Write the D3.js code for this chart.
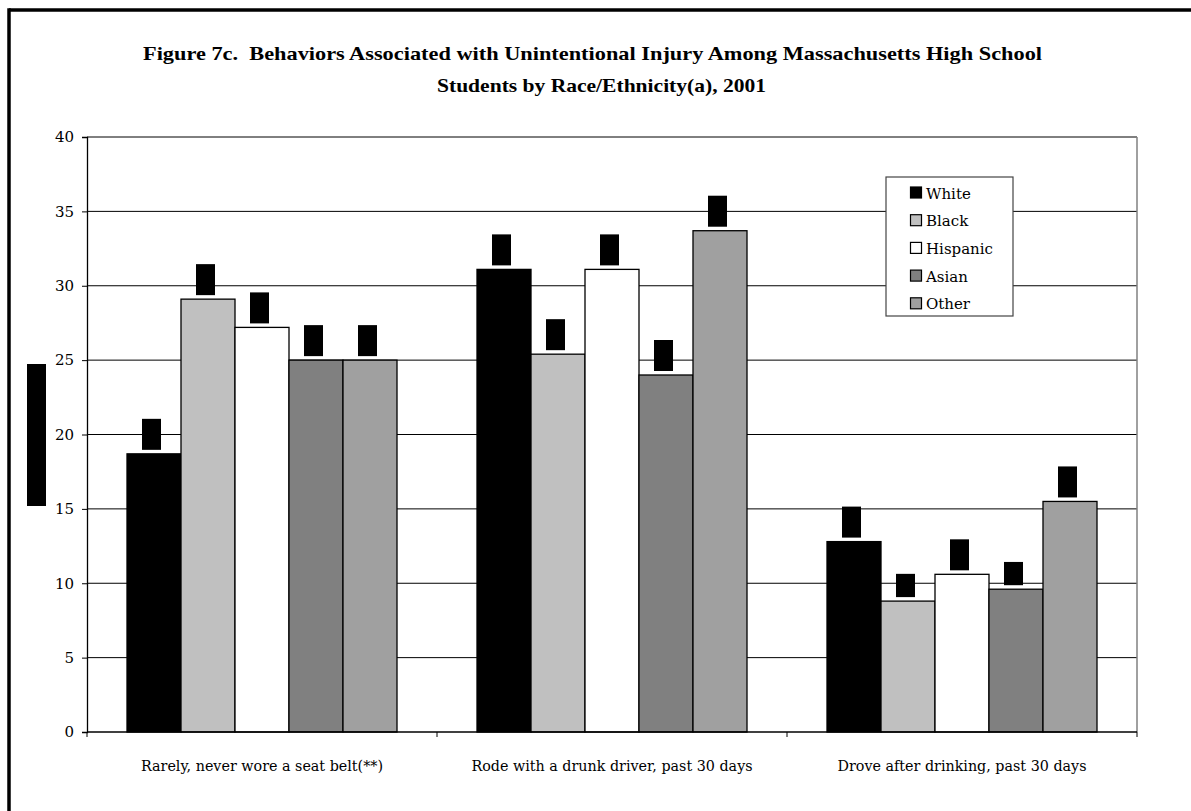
<!DOCTYPE html>
<html>
<head>
<meta charset="utf-8">
<script src="https://cdn.jsdelivr.net/npm/d3@7"></script>
<style>
  html, body { margin: 0; padding: 0; background: #fff; }
  svg { display: block; }
</style>
</head>
<body>
<svg id="chart" width="1191" height="811"></svg>
<script>
// ---- data ----
const categories = [
  "Rarely, never wore a seat belt(**)",
  "Rode with a drunk driver, past 30 days",
  "Drove after drinking, past 30 days"
];
const groups = ["White", "Black", "Hispanic", "Asian", "Other"];
const white    = [18.7, 31.1, 12.8];
const black    = [29.1, 25.4, 8.8];
const hispanic = [27.2, 31.1, 10.6];
const asian    = [25.0, 24.0, 9.6];
const other    = [25.0, 33.7, 15.5];
const yTicks = [0, 5, 10, 15, 20, 25, 30, 35, 40];
const titleLines = [
  "Figure 7c.  Behaviors Associated with Unintentional Injury Among Massachusetts High School",
  "Students by Race/Ethnicity(a), 2001"
];
const yTitle = "Percent of Students";

const seriesValues = [white, black, hispanic, asian, other];
const colors = ["#000000", "#C0C0C0", "#FFFFFF", "#808080", "#A0A0A0"];

const svg = d3.select("#chart");
const L = 87, R = 1137, T = 137, B = 732;
const serif = "'DejaVu Serif', serif";

// outer frame (left and top heavy lines)
svg.append("line").attr("x1", 9).attr("x2", 1191).attr("y1", 10).attr("y2", 10)
  .attr("stroke", "#000").attr("stroke-width", 3.5);
svg.append("line").attr("x1", 9).attr("x2", 9).attr("y1", 8.25).attr("y2", 811)
  .attr("stroke", "#000").attr("stroke-width", 3.5);

// title
const titleLayout = [ { x: 143, y: 60, w: 899 }, { x: 437, y: 92, w: 329 } ];
svg.append("g").selectAll("text").data(titleLines).join("text")
  .attr("x", (d, i) => titleLayout[i].x).attr("y", (d, i) => titleLayout[i].y)
  .attr("textLength", (d, i) => titleLayout[i].w)
  .attr("lengthAdjust", "spacingAndGlyphs")
  .attr("font-family", "'Liberation Serif', 'Times New Roman', serif")
  .attr("font-weight", "bold").attr("font-size", 19)
  .attr("fill", "#000")
  .style("white-space", "pre")
  .text(d => d);

// scales
const x0 = d3.scaleBand().domain(categories).range([L, R]).paddingInner(0).paddingOuter(0);
const x1 = d3.scaleBand().domain(groups).range([40, 310]).padding(0);
const y = d3.scaleLinear().domain([0, 40]).range([B, T]);

// gridlines
svg.append("g").selectAll("line").data(yTicks.filter(v => v > 0)).join("line")
  .attr("x1", L).attr("x2", R)
  .attr("y1", d => y(d)).attr("y2", d => y(d))
  .attr("stroke", "#000").attr("stroke-width", 1);

// right plot border
svg.append("line").attr("x1", R).attr("x2", R).attr("y1", T).attr("y2", B)
  .attr("stroke", "#808080").attr("stroke-width", 1.5);

// bars
const barData = [];
categories.forEach((c, ci) => {
  groups.forEach((g, gi) => {
    barData.push({ cat: c, grp: g, gi: gi, v: seriesValues[gi][ci] });
  });
});
const bars = svg.append("g");
bars.selectAll("rect").data(barData).join("rect")
  .attr("x", d => x0(d.cat) + x1(d.grp))
  .attr("y", d => y(d.v))
  .attr("width", x1.bandwidth())
  .attr("height", d => y(0) - y(d.v))
  .attr("fill", d => colors[d.gi])
  .attr("stroke", "#000").attr("stroke-width", 1.3);

// data labels (rendered as solid black vertical labels, as in the reference)
const lbl = svg.append("g");
barData.forEach(d => {
  const s = d.v.toFixed(1);
  const h = s.length * 7.75;
  const cx = x0(d.cat) + x1(d.grp) + x1.bandwidth() / 2 - 2.5;
  const bottom = y(d.v) - 4;
  lbl.append("rect").attr("x", cx - 9.5).attr("y", bottom - h)
    .attr("width", 19).attr("height", h).attr("fill", "#000");
  lbl.append("text")
    .attr("transform", `translate(${cx + 4},${bottom - h / 2}) rotate(-90)`)
    .attr("text-anchor", "middle")
    .attr("font-family", serif).attr("font-size", 11)
    .attr("fill", "#000").text(s);
});

// y axis
const yAxis = svg.append("g").attr("transform", `translate(${L},0)`)
  .call(d3.axisLeft(y).tickValues(yTicks).tickSize(5).tickPadding(8).tickFormat(d3.format("d")));
yAxis.select(".domain").attr("stroke", "#000").attr("stroke-width", 1.3);
yAxis.selectAll(".tick line").attr("stroke", "#000");
yAxis.selectAll("text").attr("font-family", serif).attr("font-size", 15).attr("fill", "#000");

// x axis
const xAxisG = svg.append("g").attr("transform", `translate(0,${B})`);
xAxisG.append("line").attr("x1", L).attr("x2", R).attr("y1", 0).attr("y2", 0)
  .attr("stroke", "#000").attr("stroke-width", 1.3);
const bounds = categories.map(c => x0(c)).concat([R]);
xAxisG.selectAll("line.tk").data(bounds).join("line").attr("class", "tk")
  .attr("x1", d => d).attr("x2", d => d).attr("y1", 0).attr("y2", 5)
  .attr("stroke", "#000");
xAxisG.selectAll("text").data(categories).join("text")
  .attr("x", d => x0(d) + x0.bandwidth() / 2).attr("y", 39)
  .attr("text-anchor", "middle")
  .attr("font-family", serif).attr("font-size", 14.3).attr("fill", "#000")
  .text(d => d);

// y title (solid black vertical label, as in the reference)
svg.append("rect").attr("x", 27).attr("y", 364).attr("width", 19).attr("height", 142).attr("fill", "#000");
svg.append("text")
  .attr("transform", `translate(41,${(T + B) / 2}) rotate(-90)`)
  .attr("text-anchor", "middle")
  .attr("font-family", serif).attr("font-size", 12).attr("fill", "#000")
  .text(yTitle);

// legend
const lg = svg.append("g");
lg.append("rect").attr("x", 886).attr("y", 177).attr("width", 127).attr("height", 139)
  .attr("fill", "#fff").attr("stroke", "#444").attr("stroke-width", 1.2);
groups.forEach((g, i) => {
  const cy = 193 + i * 27.7;
  lg.append("rect").attr("x", 910.5).attr("y", cy - 6).attr("width", 11).attr("height", 11)
    .attr("fill", colors[i]).attr("stroke", "#000").attr("stroke-width", 1.2);
  lg.append("text").attr("x", 926).attr("y", cy + 5.5)
    .attr("font-family", serif).attr("font-size", 15).attr("fill", "#000")
    .text(g);
});
</script>
</body>
</html>
